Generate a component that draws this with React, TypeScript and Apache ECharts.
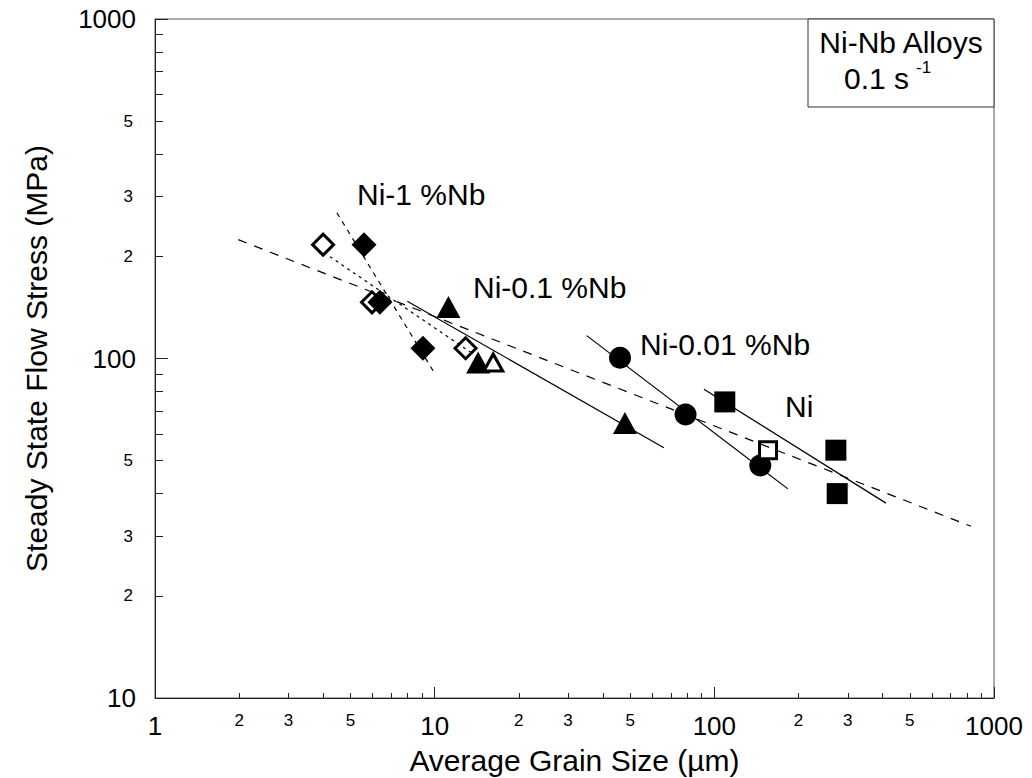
import React, { useEffect, useRef } from "react";
import * as echarts from "echarts";

const FONT = "'Liberation Sans', Arial, Helvetica, sans-serif";

// ---- data (grain size µm, flow stress MPa) ----
const ni1NbOpen = [[3.99, 216.4], [5.97, 146.4], [12.9, 107.2]];
const ni1NbFilled = [[5.59, 216.4], [6.37, 146.4], [9.08, 107.2]];
const ni01NbFilled = [[11.2, 141.7], [14.3, 97.3], [47.9, 64.6]];
const ni01NbOpen = [[16.2, 97.3]];
const ni001Nb = [[46.0, 100.5], [78.9, 68.4], [146.0, 48.4]];
const niFilled = [[109.0, 74.5], [272.0, 53.7], [275.0, 40.0]];
const niOpen = [[155.6, 53.7]];

// fitted lines (end points)
const fitAllOpen = [[1.985, 223.9], [827.0, 32.05]];
const fitNi1NbOpen = [[4.22, 199.5], [13.49, 104.1]];
const fitNi1Nb = [[4.47, 268.8], [10.02, 90.2]];
const fitNi01Nb = [[7.98, 147.4], [66.0, 54.6]];
const fitNi001Nb = [[34.96, 116.8], [183.3, 41.3]];
const fitNi = [[91.8, 81.2], [410.8, 37.5]];

// ---- axis ticks / labels ----
const xMajor = [1, 10, 100, 1000];
const xMinorLabels = [2, 3, 5, 20, 30, 50, 200, 300, 500];
const xMinorTicks = [2, 3, 4, 5, 6, 7, 8, 9, 20, 30, 40, 50, 60, 70, 80, 90, 200, 300, 400, 500, 600, 700, 800, 900];
const yMajor = [10, 100, 1000];
const yMinorLabels = [20, 30, 50, 200, 300, 500];
const yMinorTicks = [20, 30, 40, 50, 60, 70, 80, 90, 200, 300, 400, 500, 600, 700, 800, 900];

const seriesLabels = [
  { text: "Ni-1 %Nb", x: 357, y: 194 },
  { text: "Ni-0.1 %Nb", x: 473, y: 287 },
  { text: "Ni-0.01 %Nb", x: 640, y: 344 },
  { text: "Ni", x: 785, y: 406 },
];

const AXIS_COLOR = "#222";

export default function App() {
  const ref = useRef<HTMLDivElement>(null);

  useEffect(() => {
    if (!ref.current) return;
    const chart = echarts.init(ref.current, undefined, { renderer: "svg" });

    const fmt = (v: number) => String(Math.round(v));
    // minor labels show only the leading digit (2, 3, 5) in every decade
    const fmtMinor = (v: number) => String(Math.round(v / Math.pow(10, Math.floor(Math.log10(v) + 1e-9))));

    const baseX = {
      type: "log",
      logBase: 10,
      min: 1,
      max: 1000,
      position: "bottom",
      gridIndex: 0,
      splitLine: { show: false },
      minorTick: { show: false },
    };
    const baseY = {
      type: "log",
      logBase: 10,
      min: 10,
      max: 1000,
      position: "left",
      gridIndex: 0,
      splitLine: { show: false },
      minorTick: { show: false },
    };

    const scatter = (data: number[][], symbol: string, size: any, open: boolean) => ({
      type: "scatter",
      data,
      symbol,
      symbolSize: size,
      xAxisIndex: 0,
      yAxisIndex: 0,
      itemStyle: open
        ? { color: "#fff", borderColor: "#000", borderWidth: 3, opacity: 1 }
        : { color: "#000", borderWidth: 0, opacity: 1 },
      silent: true,
    });

    const line = (data: number[][], dash: any) => ({
      type: "line",
      data,
      symbol: "none",
      xAxisIndex: 0,
      yAxisIndex: 0,
      lineStyle: { color: "#000", width: 1.2, type: dash },
      silent: true,
      z: 3,
    });

    chart.setOption({
      animation: false,
      backgroundColor: "#fff",
      grid: {
        left: 155,
        right: 38,
        top: 19,
        bottom: 80,
        show: true,
        borderColor: "#555",
        borderWidth: 1,
        containLabel: false,
        outerBoundsMode: "none",
      },
      xAxis: [
        {
          ...baseX,
          name: "Average Grain Size (µm)",
          nameLocation: "middle",
          nameGap: 47,
          nameTextStyle: { fontFamily: FONT, fontSize: 30, color: "#000" },
          axisLine: { show: true, lineStyle: { color: AXIS_COLOR, width: 1 } },
          axisTick: { show: true, inside: true, length: 11, customValues: xMajor, lineStyle: { color: AXIS_COLOR } },
          axisLabel: { show: true, customValues: xMajor, formatter: fmt, margin: 15, fontFamily: FONT, fontSize: 26, color: "#000" },
        },
        {
          ...baseX,
          axisLine: { show: false },
          axisTick: { show: true, inside: true, length: 5, customValues: xMinorTicks, lineStyle: { color: AXIS_COLOR } },
          axisLabel: { show: true, customValues: xMinorLabels, formatter: fmtMinor, margin: 14, fontFamily: FONT, fontSize: 17, color: "#000" },
        },
      ],
      yAxis: [
        {
          ...baseY,
          name: "Steady State Flow Stress (MPa)",
          nameLocation: "middle",
          nameGap: 104,
          nameTextStyle: { fontFamily: FONT, fontSize: 30, color: "#000" },
          axisLine: { show: true, lineStyle: { color: AXIS_COLOR, width: 1 } },
          axisTick: { show: true, inside: true, length: 13, customValues: yMajor, lineStyle: { color: AXIS_COLOR } },
          axisLabel: { show: true, customValues: yMajor, formatter: fmt, margin: 19, fontFamily: FONT, fontSize: 26, color: "#000" },
        },
        {
          ...baseY,
          axisLine: { show: false },
          axisTick: { show: true, inside: true, length: 8, customValues: yMinorTicks, lineStyle: { color: AXIS_COLOR } },
          axisLabel: { show: true, customValues: yMinorLabels, formatter: fmtMinor, margin: 22, fontFamily: FONT, fontSize: 17, color: "#000" },
        },
      ],
      series: [
        scatter(ni1NbOpen, "diamond", 21, true),
        scatter(ni1NbFilled, "diamond", 25, false),
        scatter(ni01NbFilled, "triangle", [24, 22], false),
        scatter(ni01NbOpen, "triangle", [19, 17], true),
        scatter(ni001Nb, "circle", 22, false),
        scatter(niFilled, "rect", 21, false),
        scatter(niOpen, "rect", 17, true),
        line(fitAllOpen, [9, 8]),
        line(fitNi1NbOpen, [3, 4]),
        line(fitNi1Nb, [5, 5]),
        line(fitNi01Nb, "solid"),
        line(fitNi001Nb, "solid"),
        line(fitNi, "solid"),
      ],
      graphic: [
        ...seriesLabels.map((l) => ({
          type: "text",
          x: l.x,
          y: l.y,
          style: { text: l.text, fontFamily: FONT, fontSize: 30, fill: "#000", align: "left", verticalAlign: "middle" },
          z: 10,
        })),
        {
          type: "rect",
          shape: { x: 808, y: 19, width: 186, height: 88 },
          style: { fill: "#fff", stroke: "#333", lineWidth: 1 },
          z: 10,
        },
        {
          type: "text",
          x: 901,
          y: 42,
          style: { text: "Ni-Nb Alloys", fontFamily: FONT, fontSize: 30, fill: "#000", align: "center", verticalAlign: "middle" },
          z: 11,
        },
        {
          type: "text",
          x: 844,
          y: 78,
          style: { text: "0.1 s", fontFamily: FONT, fontSize: 30, fill: "#000", align: "left", verticalAlign: "middle" },
          z: 11,
        },
        {
          type: "text",
          x: 916,
          y: 67,
          style: { text: "-1", fontFamily: FONT, fontSize: 17, fill: "#000", align: "left", verticalAlign: "middle" },
          z: 11,
        },
      ],
    } as any);

    return () => chart.dispose();
  }, []);

  return (
    <div
      ref={ref}
      style={{ position: "fixed", left: 0, top: 0, width: 1032, height: 778, background: "#fff" }}
    />
  );
}
